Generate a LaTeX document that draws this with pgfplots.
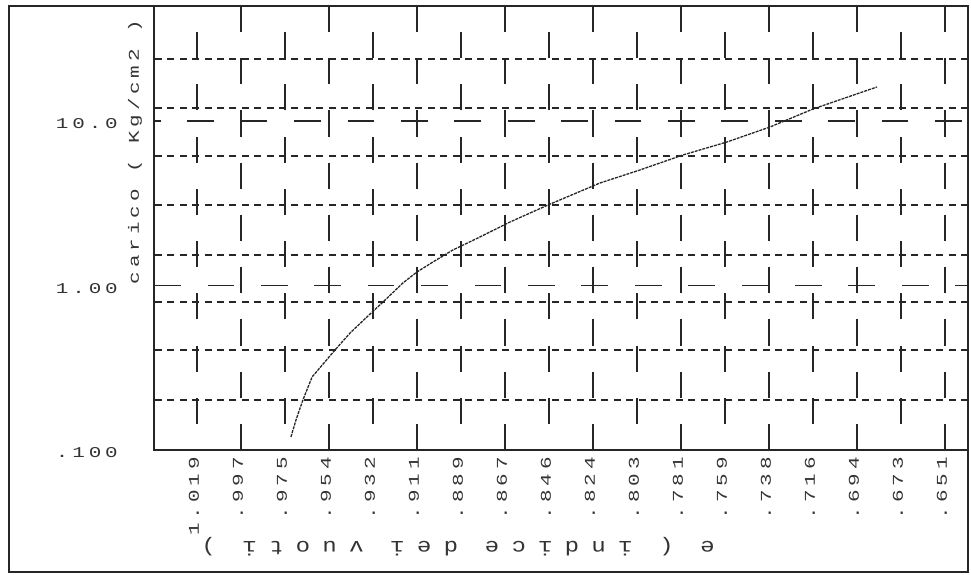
\documentclass[border=0pt]{standalone}
\usepackage{fontspec}
\usepackage{pgfplots}
\pgfplotsset{compat=1.18}
\newfontfamily\plotfont[LetterSpace=26,FakeStretch=1.4]{Liberation Mono}
\newfontfamily\plotfontwide[LetterSpace=62,FakeStretch=1.2]{Liberation Mono}
\definecolor{ink}{gray}{0.15}
\definecolor{txt}{gray}{0.2}
\begin{document}
\begin{tikzpicture}[x=1bp,y=1bp]
\path[use as bounding box] (0,0) rectangle (971,575);
\draw[line width=1.6bp, color=ink] (9,3) rectangle (968,569);
\begin{axis}[
  at={(154bp,125bp)}, anchor=south west,
  scale only axis, width=814bp, height=444bp,
  xmin=0.63970, xmax=1.04016,
  x dir=reverse,
  ymode=log, ymin=0.1, ymax=50,
  axis line style={line width=1.6bp, ink},
  major tick length=0pt, minor tick length=0pt,
  tick style={draw=none},
  xtick={0.997353,0.954059,0.910765,0.867471,0.824177,0.780883,0.737589,0.694295,0.651001},
  xticklabels={.997,.954,.911,.867,.824,.781,.738,.694,.651},
  xmajorgrids=true,
  major x grid style={line width=1.6bp, ink, dash pattern=on 26.12bp off 26.12bp},
  extra x ticks={1.019,0.975706,0.932412,0.889118,0.845824,0.802530,0.759236,0.715942,0.672648},
  extra x tick labels={1.019,.975,.932,.889,.846,.803,.759,.716,.673},
  extra x tick style={grid=major, major x grid style={line width=1.6bp, ink, dash pattern=on 26.12bp off 26.12bp, dash phase=26.12bp}},
  ytick={0.1,1},
  yticklabels={.100,1.00},
  ymajorgrids=true,
  major y grid style={line width=1.6bp, ink, dash pattern=on 26.7bp off 26.7bp, dash phase=13.9bp},
  extra y ticks={10},
  extra y tick labels={10.0},
  extra y tick style={grid=major, major y grid style={line width=1.6bp, ink, dash pattern=on 26.7bp off 26.7bp, dash phase=47.1bp}},
  minor ytick={0.2014,0.4055,0.7937,1.532,3.086,6.128,11.99,23.82},
  yminorgrids=true,
  minor y grid style={line width=1.5bp, ink, dash pattern=on 7bp off 5.4bp},
  every x tick label/.style={font=\plotfont\fontsize{15}{15}\selectfont, color=txt, inner sep=0pt, yshift=-7bp, xshift=-3bp, rotate=90, anchor=east},
  every y tick label/.style={font=\plotfont\fontsize{15}{15}\selectfont, color=txt, inner sep=0pt, xshift=-36bp, yshift=-3bp, anchor=east},
  ylabel={carico ( Kg/cm2 )},
  every axis y label/.style={at={(axis description cs:-0.0233,0.671)}, rotate=90, anchor=center, font=\plotfont\fontsize{15}{15}\selectfont, color=txt, inner sep=0pt},
  xlabel={e ( indice dei vuoti )},
  every axis x label/.style={at={(axis description cs:0.3735,-0.2185)}, rotate=180, anchor=center, font=\plotfontwide\fontsize{20}{20}\selectfont, color=txt, inner sep=0pt},
  clip=false,
]
\addplot[line width=1.3bp, ink, dash pattern=on 3bp off 1bp] coordinates {
(0.9728,0.1200) (0.9703,0.1522) (0.9669,0.2013) (0.9624,0.2779)
(0.9511,0.4055) (0.9437,0.5143) (0.9354,0.6435) (0.9275,0.7937)
(0.9177,1.036) (0.9108,1.208) (0.9029,1.390) (0.8931,1.644)
(0.8798,1.972) (0.8650,2.432) (0.8463,3.086) (0.8207,4.200)
(0.8011,5.037) (0.7799,6.215) (0.7583,7.452) (0.7371,9.194)
(0.7159,11.83) (0.6845,16.09)
};
\end{axis}
\end{tikzpicture}
\end{document}
